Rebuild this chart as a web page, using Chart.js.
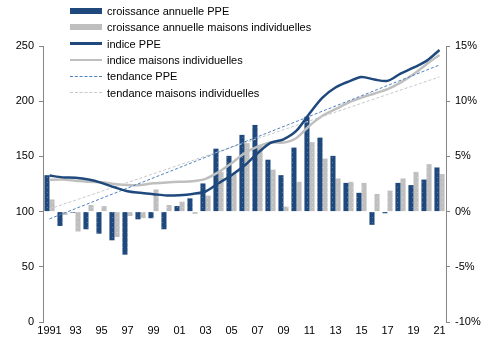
<!DOCTYPE html>
<html>
<head>
<meta charset="utf-8">
<script src="https://cdn.jsdelivr.net/npm/chart.js@4/dist/chart.umd.min.js"></script>
<style>
    html, body { margin: 0; padding: 0; background: #fff; }
    #wrap { position: relative; width: 491px; height: 341px; }
    #legend { position: absolute; left: 70px; top: 3px; font: 11px "Liberation Sans", sans-serif; color: #000; }
    .row { height: 16.3px; display: flex; align-items: center; }
    .sym { width: 32px; margin-right: 5px; }
</style>
</head>
<body>
<div id="wrap">
    <canvas id="c" width="491" height="341"></canvas>
    <div id="legend"></div>
</div>
<script>
const years = ['1991','1992','1993','1994','1995','1996','1997','1998','1999','2000',
               '2001','2002','2003','2004','2005','2006','2007','2008','2009','2010',
               '2011','2012','2013','2014','2015','2016','2017','2018','2019','2020','2021'];

// croissance annuelle (%), axe de droite
const croissancePPE     = [3.3, -1.3, -0.1, -1.6, -2.0, -2.6, -3.9, -0.7, -0.6, -1.6,
                           0.5, 1.2, 2.55, 5.7, 5.05, 6.95, 7.85, 4.7, 3.3, 5.8,
                           8.6, 6.7, 5.05, 2.6, 1.7, -1.2, -0.15, 2.6, 2.4, 2.9, 4.0];
const croissanceMaisons = [1.1, -0.3, -1.8, 0.6, 0.5, -2.3, -0.4, -0.6, 2.0, 0.6,
                           0.9, -0.2, 1.45, 3.6, 3.45, 6.2, 6.0, 3.8, 0.45, 2.7,
                           6.3, 4.8, 3.0, 2.7, 2.6, 1.6, 1.9, 3.0, 3.6, 4.3, 3.4];

// indices, axe de gauche
const indicePPE     = [132.7, 131, 130.6, 129, 126, 122, 118.5, 117, 115.8, 114.6,
                       114.9, 116, 118.2, 125.7, 133, 141.7, 152.8, 162.2, 165.5, 173.3,
                       188.9, 203.3, 212.4, 217.8, 222, 219.6, 218.4, 225, 230.4, 236.5, 246.4];
const indiceMaisons = [128.8, 129, 128, 127, 126.6, 125, 124, 124, 125.7, 126.4,
                       127, 127.5, 129.7, 135.7, 143.8, 152.8, 158.8, 162.7, 162.5, 166.7,
                       177.8, 186.8, 192.8, 198.8, 203.3, 207, 210.9, 216.9, 224.4, 233.5, 241.9];

// tendances linéaires (début / fin)
const trendYears      = ['1991', '2021'];
const tendancePPE     = [93.4, 232.8];
const tendanceMaisons = [102.4, 222];

const leftTicks  = [0, 50, 100, 150, 200, 250];
const rightTicks = [-10, -5, 0, 5, 10, 15];

const NAVY = '#1F497D', GREY = '#BFBFBF', BLUE = '#4F81BD', AXIS = '#868686';

function dotted(base, dot) {
    const p = document.createElement('canvas');
    p.width = 5; p.height = 5;
    const g = p.getContext('2d');
    g.fillStyle = base; g.fillRect(0, 0, 5, 5);
    g.fillStyle = dot; g.fillRect(2, 2, 1, 1);
    return g.createPattern(p, 'repeat');
}
const ctx = document.getElementById('c').getContext('2d');

const trend = vals => trendYears.map((x, i) => ({ x, y: vals[i] }));

const datasets = [
    { type: 'bar', label: 'croissance annuelle PPE', data: croissancePPE, yAxisID: 'y1',
      backgroundColor: dotted(NAVY, '#5677a3'), order: 2, sym: 'bar', color: NAVY },
    { type: 'bar', label: 'croissance annuelle maisons individuelles', data: croissanceMaisons, yAxisID: 'y1',
      backgroundColor: dotted(GREY, '#d6d6d6'), order: 2, sym: 'bar', color: GREY },
    { type: 'line', label: 'indice PPE', data: indicePPE, yAxisID: 'y',
      borderColor: NAVY, borderWidth: 2.5, tension: 0.3, pointRadius: 0, order: 0, sym: 'line', color: NAVY },
    { type: 'line', label: 'indice maisons individuelles', data: indiceMaisons, yAxisID: 'y',
      borderColor: GREY, borderWidth: 2.5, tension: 0.3, pointRadius: 0, order: 1, sym: 'line', color: GREY },
    { type: 'line', label: 'tendance PPE', data: trend(tendancePPE), yAxisID: 'y',
      borderColor: BLUE, borderWidth: 1, borderDash: [3, 2], pointRadius: 0, order: 0, sym: 'dash', color: BLUE },
    { type: 'line', label: 'tendance maisons individuelles', data: trend(tendanceMaisons), yAxisID: 'y',
      borderColor: '#C8C8C8', borderWidth: 1, borderDash: [3, 2], pointRadius: 0, order: 0, sym: 'dash', color: '#C8C8C8' },
];

const font = { family: '"Liberation Sans", sans-serif', size: 11 };

new Chart(ctx, {
    type: 'bar',
    data: { labels: years, datasets },
    options: {
        responsive: false,
        animation: false,
        layout: { padding: { top: 46, left: 2, right: 0, bottom: 0 } },
        datasets: { bar: { categoryPercentage: 0.78, barPercentage: 1.0 } },
        plugins: { legend: { display: false }, tooltip: { enabled: false } },
        scales: {
            x: {
                grid: { display: false, drawTicks: false, tickLength: 0 },
                border: { display: false },
                ticks: {
                    color: '#000', font, autoSkip: false, maxRotation: 0, padding: 2,
                    callback: (v, i) => i % 2 ? '' : (i === 0 ? years[i] : years[i].slice(2))
                },
                afterFit: s => { s.height = 19; }
            },
            y: {
                position: 'left', min: 0, max: 250,
                afterBuildTicks: s => { s.ticks = leftTicks.map(value => ({ value })); },
                grid: { drawOnChartArea: false, color: AXIS, tickLength: 4 },
                border: { display: true, color: AXIS },
                ticks: { color: '#000', font, padding: 5 },
                afterFit: s => { s.width = 41; }
            },
            y1: {
                position: 'right', min: -10, max: 15,
                afterBuildTicks: s => { s.ticks = rightTicks.map(value => ({ value })); },
                grid: { drawOnChartArea: false, color: AXIS, tickLength: 4 },
                border: { display: true, color: AXIS },
                ticks: { color: '#000', font, padding: 5, callback: v => v + '%' },
                afterFit: s => { s.width = 45; }
            }
        }
    }
});

// légende
const legend = document.getElementById('legend');
for (const d of datasets) {
    const row = document.createElement('div');
    row.className = 'row';
    const sym = document.createElement('div');
    sym.className = 'sym';
    if (d.sym === 'bar') { sym.style.height = '6px'; sym.style.background = d.color; }
    else if (d.sym === 'line') { sym.style.height = '2.5px'; sym.style.background = d.color; }
    else { sym.style.borderTop = '1px dashed ' + d.color; }
    const txt = document.createElement('span');
    txt.textContent = d.label;
    row.appendChild(sym);
    row.appendChild(txt);
    legend.appendChild(row);
}
</script>
</body>
</html>
